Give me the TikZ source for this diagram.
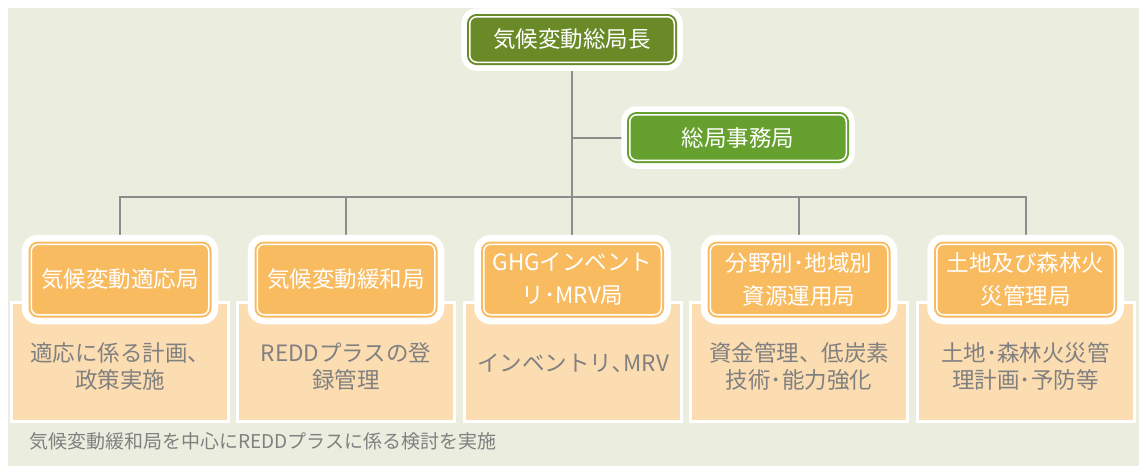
\documentclass[tikz,border=0pt]{standalone}
\usepackage{fontspec}
\setmainfont{Noto Sans CJK JP}
\usetikzlibrary{backgrounds}
\definecolor{bgc}{RGB}{235,238,223}
\definecolor{dgreen}{RGB}{106,138,40}
\definecolor{lgreen}{RGB}{102,160,46}
\definecolor{orng}{RGB}{249,187,96}
\definecolor{peach}{RGB}{252,221,178}
\definecolor{txtgray}{RGB}{128,128,128}
\definecolor{linegray}{RGB}{140,140,140}
\tikzset{
  boxbase/.style={rounded corners=7pt, draw=white, line width=1.5pt, text=white,
    inner sep=0pt, align=center, font=\fontsize{22.5}{33}\selectfont},
  orangebox/.style={boxbase, fill=orng,
    preaction={draw=white, line width=19pt, rounded corners=7pt},
    preaction={draw=orng, line width=5.5pt, rounded corners=7pt},
    minimum width=177.5pt, minimum height=70.5pt},
  greenbox/.style={boxbase, fill=#1,
    preaction={draw=white, line width=17pt, rounded corners=7pt},
    preaction={draw=#1, line width=5.5pt, rounded corners=7pt},
    minimum height=45.5pt},
  peachbox/.style={fill=peach, draw=white, line width=3pt, minimum width=217pt,
    minimum height=119pt, inner sep=0pt},
  desc/.style={text=txtgray, align=center, font=\fontsize{22.5}{27}\selectfont},
  conn/.style={draw=linegray, line width=2pt},
}
\begin{document}
\begin{tikzpicture}[x=1pt,y=-1pt]
\useasboundingbox (0,0) rectangle (1139,466);

% description boxes
\node[peachbox] (d1) at (120,361.5) {};
\node[peachbox] (d2) at (346,361.5) {};
\node[peachbox] (d3) at (573,361.5) {};
\node[peachbox] (d4) at (799,361.5) {};
\node[peachbox] (d5) at (1025.5,361.5) {};

\node[desc] (t1) at (120,366) {適応に係る計画、\\政策実施};
\node[desc] (t2) at (346,366) {REDDプラスの登\\録管理};
\node[desc] (t3) at (573,363) {インベントリ､MRV};
\node[desc] (t4) at (799,366) {資金管理、低炭素\\技術･能力強化};
\node[desc] (t5) at (1025.5,366) {土地･森林火災管\\理計画･予防等};

% top boxes
\node[greenbox=dgreen, minimum width=204.5pt] (top) at (572,39.5) {気候変動総局長};
\node[greenbox=lgreen, minimum width=216.5pt] (sec) at (738,137.5) {総局事務局};

% bureaus
\node[orangebox] (o1) at (120,279.5) {気候変動適応局};
\node[orangebox] (o2) at (346,279.5) {気候変動緩和局};
\node[orangebox] (o3) at (572.5,279.5) {GHGインベント\\リ･MRV局};
\node[orangebox] (o4) at (799,279.5) {分野別･地域別\\資源運用局};
\node[orangebox] (o5) at (1025.5,279.5) {土地及び森林火\\災管理局};

\coordinate (bus) at (572,197);

\begin{scope}[on background layer]
\fill[white] (0,0) rectangle (1139,466);
\fill[bgc] (8,8) rectangle (1139,466);
\draw[conn] (top.south) -- (top.south |- o3.north);
\draw[conn] (sec.west) -- (sec.west -| top.south);
\draw[conn] (o1.north) |- (bus) -| (o5.north);
\draw[conn] (o2.north) -- (o2.north |- bus);
\draw[conn] (o4.north) -- (o4.north |- bus);
\end{scope}

\node[anchor=west, text=txtgray, font=\fontsize{19}{19}\selectfont, inner sep=0pt] (note) at (29,441) {気候変動緩和局を中心にREDDプラスに係る検討を実施};
\end{tikzpicture}
\end{document}
